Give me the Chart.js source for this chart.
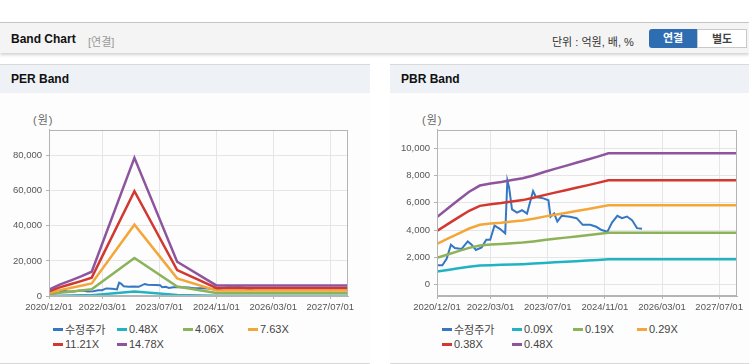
<!DOCTYPE html>
<html>
<head>
<meta charset="utf-8">
<script src="https://cdn.jsdelivr.net/npm/chart.js@4.4.1/dist/chart.umd.min.js"></script>
<style>
  body { margin: 0; width: 749px; height: 364px; overflow: hidden; background: #fff; position: relative;
         font-family: "Liberation Sans", "Noto Sans CJK KR", sans-serif; color: #333; }
  .abs { position: absolute; }
  .head { left: 0; top: 22px; width: 749px; height: 30px; background: #f4f4f4; border-top: 1px solid #c6c6c6;
          box-shadow: 0 2px 3px rgba(0,0,0,0.18); }
  .head-title { left: 11px; top: 32px; font-size: 12px; font-weight: bold; color: #111; }
  .head-sub { left: 88px; top: 33px; font-size: 11px; color: #999; }
  .unit { left: 552px; top: 33px; font-size: 11px; color: #333; }
  .btn { top: 29px; height: 19px; line-height: 19px; font-size: 11px; font-weight: bold; text-align: center; box-sizing: border-box; }
  .btn.on { left: 649px; width: 48px; background: #2f6db3; color: #fff; border-radius: 3px 0 0 3px; }
  .btn.off { left: 697px; width: 50px; background: #fff; color: #444; border: 1px solid #c8c8c8; }
  .panel { top: 64px; height: 298px; background: #fdfdfd; border-top: 1px solid #d9d9d9; border-bottom: 1px solid #d9d9d9; }
  .ptitle { left: 0; top: 0; right: 0; height: 28px; line-height: 28px; background: #eef2f7;
            font-size: 12px; font-weight: bold; color: #111; padding-left: 11px; }
  .unitlbl { top: 111px; font-size: 11px; color: #666; letter-spacing: 1px; }
  canvas { position: absolute; }
  .legend { top: 322px; display: grid; row-gap: 1px; font-size: 11px; color: #444; }
  .legend .item { display: flex; align-items: center; height: 14px; white-space: nowrap; }
  .legend .mark { width: 10px; height: 3px; margin-right: 2px; }
</style>
</head>
<body>
<div class="abs head"></div>
<div class="abs head-title">Band Chart</div>
<div class="abs head-sub">[연결]</div>
<div class="abs unit">단위 : 억원, 배, %</div>
<div class="abs btn on">연결</div>
<div class="abs btn off">별도</div>

<div class="abs panel" style="left:0;width:370px"><div class="abs ptitle">PER Band</div></div>
<div class="abs panel" style="left:390px;width:359px"><div class="abs ptitle">PBR Band</div></div>

<div class="abs unitlbl" style="left:33px">(원)</div>
<div class="abs unitlbl" style="left:422px">(원)</div>

<canvas id="per" width="370" height="200" style="left:0;top:120px"></canvas>
<canvas id="pbr" width="359" height="200" style="left:390px;top:120px"></canvas>

<div class="abs legend" id="perLegend" style="left:53px;grid-template-columns:64px 66px 65px 65px"></div>
<div class="abs legend" id="pbrLegend" style="left:442px;grid-template-columns:70px 61px 64px 64px"></div>

<script>
// x axis: months counted from 2020/12
const tickMonths = [0, 15, 31, 47, 63, 79];
const tickLabels = ["2020/12/01", "2022/03/01", "2023/07/01", "2024/11/01", "2026/03/01", "2027/07/01"];

// adjusted price (shared by both charts)
const priceDates = ["2020/12/07", "2021/01/16", "2021/02/22", "2021/03/28", "2021/05/01",
  "2021/06/28", "2021/08/19", "2021/09/22", "2021/10/28", "2021/12/16",
  "2022/01/25", "2022/02/28", "2022/04/04", "2022/05/22", "2022/07/04",
  "2022/07/22", "2022/08/07", "2022/09/01", "2022/10/13", "2022/11/25",
  "2023/01/07", "2023/02/28", "2023/03/22", "2023/05/25", "2023/07/07",
  "2023/07/25", "2023/08/25", "2023/09/22", "2023/10/28", "2024/01/07",
  "2024/03/04", "2024/04/25", "2024/06/28", "2024/08/19", "2024/10/04",
  "2024/11/22", "2025/01/01", "2025/02/16", "2025/03/25", "2025/05/07",
  "2025/06/19", "2025/08/01", "2025/09/13"];
const priceValues = [1425, 1425, 1890, 2930, 2690, 2620, 3170, 2930, 2545, 2730,
  3290, 3290, 4330, 4070, 3750, 7630, 7100, 5520, 5280, 5450,
  5210, 6860, 6420, 6320, 6180, 4970, 5210, 4620, 5040, 4970,
  4870, 4380, 4380, 4240, 4000, 3870, 4550, 5040, 4870, 4990,
  4730, 4140, 4090];

// PER band
const perMonths = [0, 3, 6, 9, 12, 24, 36, 47, 84];
const per048 = [117, 211, 286, 364, 448, 2556, 633, 197, 197];
const per406 = [989, 1786, 2417, 3077, 3791, 21619, 5357, 1662, 1662];
const per763 = [1858, 3355, 4543, 5782, 7124, 40625, 10066, 3123, 3123];
const per1121 = [2730, 4930, 6670, 8500, 10470, 59700, 14790, 4590, 4590];
const per1478 = [3600, 6500, 8800, 11200, 13800, 78700, 19500, 6050, 6050];
const perNames = ["수정주가", "0.48X", "4.06X", "7.63X", "11.21X", "14.78X"];
const perTicks = [0, 20000, 40000, 60000, 80000];

// PBR band
const pbrMonths = [0, 3, 6, 9, 12, 15, 18, 21, 24, 27, 30, 33, 36, 39, 42, 45, 48, 84];
const pbr009 = [955, 1077, 1197, 1314, 1401, 1430, 1451, 1478, 1503, 1544, 1592, 1637, 1679, 1723, 1766, 1810, 1857, 1857];
const pbr019 = [1960, 2210, 2455, 2697, 2875, 2934, 2978, 3033, 3085, 3168, 3267, 3358, 3445, 3536, 3623, 3714, 3810, 3810];
const pbr029 = [2990, 3370, 3745, 4113, 4385, 4476, 4542, 4627, 4705, 4832, 4983, 5122, 5255, 5394, 5527, 5666, 5810, 5810];
const pbr038 = [3935, 4436, 4929, 5414, 5772, 5891, 5978, 6090, 6193, 6360, 6559, 6742, 6917, 7099, 7274, 7457, 7648, 7648];
const pbr048 = [4950, 5580, 6200, 6810, 7260, 7410, 7520, 7660, 7790, 8000, 8250, 8480, 8700, 8930, 9150, 9380, 9620, 9620];
const pbrNames = ["수정주가", "0.09X", "0.19X", "0.29X", "0.38X", "0.48X"];
const pbrTicks = [0, 2000, 4000, 6000, 8000, 10000];

const colors = ["#3677c4", "#20b3c4", "#8cb25a", "#f3a73a", "#d2382f", "#8d559e"];

function monthOf(d) {
  const [y, m, day] = d.split("/").map(Number);
  return (y - 2020) * 12 + (m - 12) + (day - 1) / 30;
}

function points(xs, ys) {
  return xs.map((x, i) => ({ x: x, y: ys[i] }));
}

const tickFont = { family: "Liberation Sans", size: 9.5 };

// outline of the plot area
const frame = {
  id: "frame",
  afterDraw(chart) {
    const a = chart.chartArea, ctx = chart.ctx;
    ctx.save();
    ctx.strokeStyle = "#b4b4b4";
    ctx.lineWidth = 1;
    ctx.strokeRect(Math.round(a.left) + 0.5, Math.round(a.top) + 0.5,
      Math.round(a.right - a.left) - 1, Math.round(a.bottom - a.top) - 1);
    ctx.restore();
  }
};

function drawBand(id, names, bandMonths, bands, yMin, yMax, yTicks, yWidth, padRight) {
  const price = points(priceDates.map(monthOf), priceValues);
  const series = [price].concat(bands.map(b => points(bandMonths, b)));
  new Chart(document.getElementById(id), {
    type: "line",
    data: {
      datasets: series.map((d, i) => ({
        label: names[i],
        data: d,
        borderColor: colors[i],
        borderWidth: i === 0 ? 2 : 2.5,
        pointRadius: 0,
        tension: 0,
        fill: false,
        order: series.length - i
      }))
    },
    options: {
      responsive: false,
      animation: false,
      layout: { padding: { left: 0, right: padRight, top: 8, bottom: 0 } },
      plugins: { legend: { display: false }, tooltip: { enabled: false } },
      scales: {
        x: {
          type: "linear", min: 0, max: 84,
          afterBuildTicks: s => { s.ticks = tickMonths.map(v => ({ value: v })); },
          afterFit: s => { s.height = 24; },
          ticks: { callback: v => tickLabels[tickMonths.indexOf(v)], maxRotation: 0, autoSkip: false,
                   font: tickFont, color: "#555", padding: 3 },
          grid: { color: "#e6e6e6", tickLength: 3, tickColor: "#b4b4b4" },
          border: { color: "#b4b4b4" }
        },
        y: {
          min: yMin, max: yMax,
          afterBuildTicks: s => { s.ticks = yTicks.map(v => ({ value: v })); },
          afterFit: s => { s.width = yWidth; },
          ticks: { callback: v => v.toLocaleString("en-US"), font: tickFont, color: "#555", padding: 4 },
          grid: { color: "#e6e6e6", tickLength: 3, tickColor: "#b4b4b4" },
          border: { color: "#b4b4b4" }
        }
      }
    },
    plugins: [frame]
  });
}

function buildLegend(id, names) {
  const box = document.getElementById(id);
  names.forEach((n, i) => {
    const item = document.createElement("div");
    item.className = "item";
    const mark = document.createElement("span");
    mark.className = "mark";
    mark.style.background = colors[i];
    item.appendChild(mark);
    item.appendChild(document.createTextNode(n));
    box.appendChild(item);
  });
}

drawBand("per", perNames, perMonths, [per048, per406, per763, per1121, per1478], 0, 94700, perTicks, 49, 22);
drawBand("pbr", pbrNames, pbrMonths, [pbr009, pbr019, pbr029, pbr038, pbr048], -830, 11350, pbrTicks, 47, 12);
buildLegend("perLegend", perNames);
buildLegend("pbrLegend", pbrNames);
</script>
</body>
</html>
